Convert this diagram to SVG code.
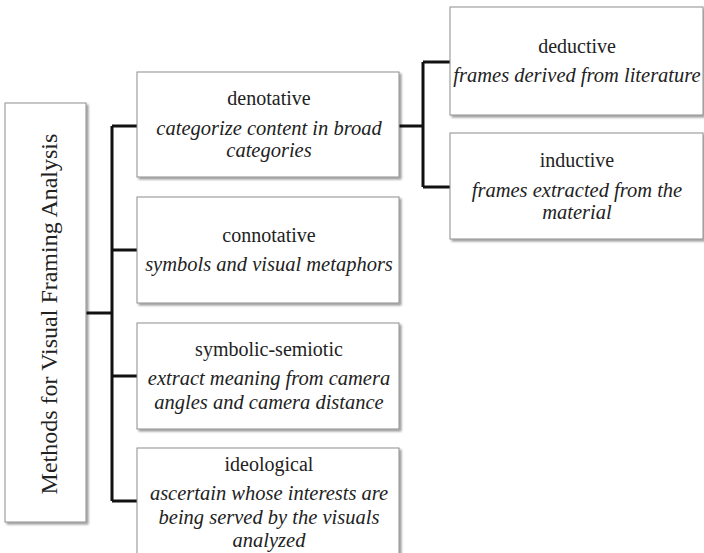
<svg xmlns="http://www.w3.org/2000/svg" width="704" height="553" viewBox="0 0 704 553" font-family="'Liberation Serif', 'Times New Roman', serif">
<style>
.box{fill:#fff;stroke:#8e8e8e;stroke-width:1}
.ttl{font-family:'Liberation Serif','Times New Roman',serif;font-size:20px;fill:#222;text-anchor:middle}
.desc{font-family:'Liberation Serif','Times New Roman',serif;font-size:20.5px;font-style:italic;fill:#222;text-anchor:middle}
.root{font-family:'Liberation Serif','Times New Roman',serif;font-size:24px;fill:#222;text-anchor:middle}
.c{stroke:#111;stroke-width:3;fill:none}
</style>
<defs>
<filter id="sh" x="-10%" y="-10%" width="130%" height="130%">
<feDropShadow dx="2" dy="2" stdDeviation="1.2" flood-color="#000" flood-opacity="0.4"/>
</filter>
</defs>
<rect width="704" height="553" fill="#fff"/>
<g id="connectors">
<path class="c" d="M86,313H112"/>
<path class="c" d="M112,126V501"/>
<path class="c" d="M112,126H138M112,250H138M112,376H138M112,501H138"/>
<path class="c" d="M398,126H423M423,62V187M423,62H450M423,187H450"/>
</g>
<g id="root">
<rect class="box" x="5" y="103" width="81" height="419" filter="url(#sh)"/>
<text class="root" transform="translate(57,314) rotate(-90)">Methods for Visual Framing Analysis</text>
</g>
<g id="denotative">
<rect class="box" x="137" y="72" width="262" height="105" filter="url(#sh)"/>
<text class="ttl" x="269" y="105">denotative</text>
<text class="desc" x="269" y="135">categorize content in broad</text>
<text class="desc" x="269" y="157">categories</text>
</g>
<g id="connotative">
<rect class="box" x="137" y="197" width="262" height="106" filter="url(#sh)"/>
<text class="ttl" x="269" y="242">connotative</text>
<text class="desc" x="269" y="271">symbols and visual metaphors</text>
</g>
<g id="symbolic-semiotic">
<rect class="box" x="137" y="323" width="262" height="106" filter="url(#sh)"/>
<text class="ttl" x="269" y="356">symbolic-semiotic</text>
<text class="desc" x="269" y="385">extract meaning from camera</text>
<text class="desc" x="269" y="409">angles and camera distance</text>
</g>
<g id="ideological">
<rect class="box" x="137" y="448" width="262" height="120" filter="url(#sh)"/>
<text class="ttl" x="269" y="471">ideological</text>
<text class="desc" x="269" y="500">ascertain whose interests are</text>
<text class="desc" x="269" y="524">being served by the visuals</text>
<text class="desc" x="269" y="547">analyzed</text>
</g>
<g id="deductive">
<rect class="box" x="450" y="7" width="253" height="108" filter="url(#sh)"/>
<text class="ttl" x="577" y="53">deductive</text>
<text class="desc" x="577" y="82">frames derived from literature</text>
</g>
<g id="inductive">
<rect class="box" x="450" y="133" width="253" height="106" filter="url(#sh)"/>
<text class="ttl" x="577" y="167">inductive</text>
<text class="desc" x="577" y="197">frames extracted from the</text>
<text class="desc" x="577" y="219">material</text>
</g>
</svg>
